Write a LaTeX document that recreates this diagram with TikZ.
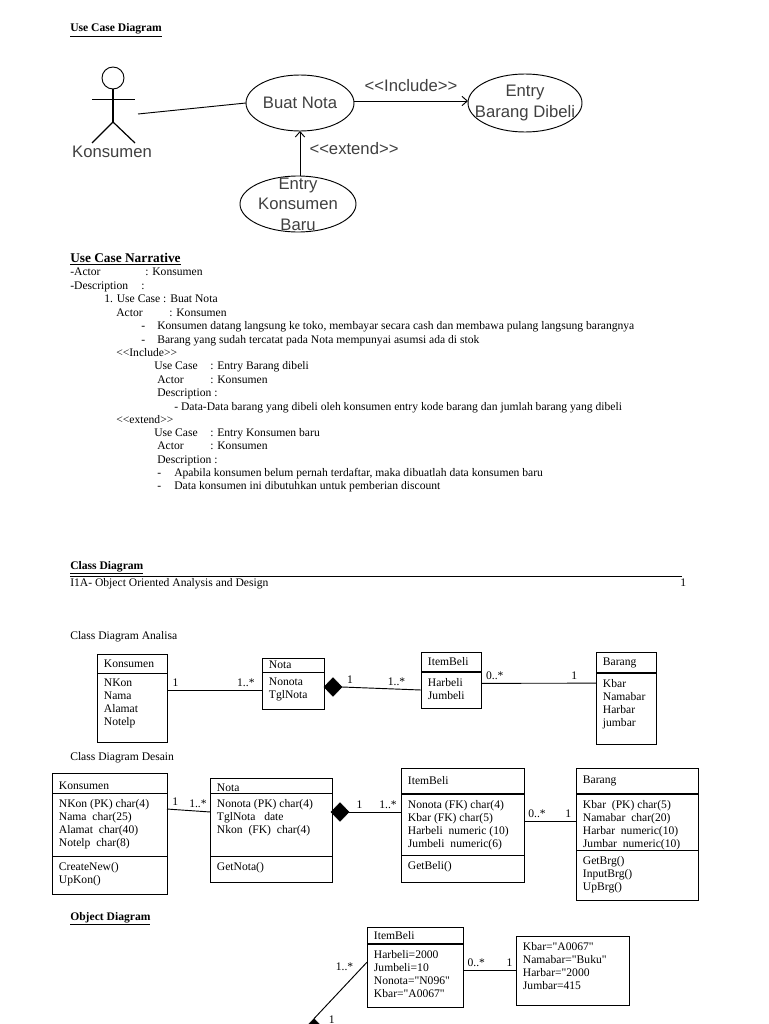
\documentclass[tikz,border=0pt]{standalone}
\usepackage{fontspec}
\setmainfont{Liberation Serif}[Ligatures=TeXOff]
\setsansfont{Liberation Sans}[Ligatures=TeXOff]
\usetikzlibrary{arrows.meta,positioning,shapes.geometric}

\begin{document}
\begin{tikzpicture}[
  x=0.75pt, y=-0.75pt,
  font=\fontsize{8.7}{9.75}\selectfont\rmfamily,
  txt/.style={anchor=base west, inner sep=0pt},
  wh/.style 2 args={minimum width=#1*0.75pt, minimum height=#2*0.75pt},
  uc/.style={draw, ellipse, inner sep=0pt, outer sep=0pt, line width=0.7pt,
    label={[ucl]center:#1}},
  ucl/.style={anchor=center, inner sep=0pt, align=center, text=black!75,
    font=\fontsize{12.5}{15.4}\selectfont\sffamily},
  box/.style={draw, rectangle, inner sep=0pt, outer sep=0pt, line width=0.7pt},
  head/.style={box, label={[ttl]west:#1}},
  headlow/.style={box, label={[ttl, yshift=-1.8pt]west:#1}},
  ttl/.style={anchor=west, inner sep=0pt, xshift=5pt, align=left},
  body/.style={box, label={[attr]north west:#1}},
  attr/.style={anchor=north west, inner sep=0pt, xshift=5pt, yshift=-4.5pt, align=left},
  dia/.style={draw, fill=black, diamond, inner sep=0pt, outer sep=0pt, minimum width=13.5pt, minimum height=14pt},
  conn/.style={line width=0.7pt},
  mult/.style={above, inner sep=2.5pt},
  arr/.style={-{Straight Barb[length=4pt,width=7pt]}, line width=0.7pt}
]
  \useasboundingbox (0,0) rectangle (768,1024);

  % narrative and headings
  \foreach \tx/\ty/\tt [count=\i] in {
    70/32/{\underline{\textbf{Use Case Diagram}}},
    70/262/{\underline{\fontsize{10}{12}\selectfont\textbf{Use Case Narrative}}},
    70/275/{-Actor}, 145/275/{: Konsumen},
    70/289/{-Description}, 141/289/{:},
    104/302/{1. Use Case : Buat Nota},
    116/316/{Actor}, 169/316/{: Konsumen},
    141/329/{-}, 157/329/{Konsumen datang langsung ke toko, membayar secara cash dan membawa pulang langsung barangnya},
    141/343/{-}, 157/343/{Barang yang sudah tercatat pada Nota mempunyai asumsi ada di stok},
    116/356/{<<Include>>},
    154/369/{Use Case}, 210/369/{: Entry Barang dibeli},
    157/383/{Actor}, 210/383/{: Konsumen},
    157/396/{Description :},
    174/410/{- Data-Data barang yang dibeli oleh konsumen entry kode barang dan jumlah barang yang dibeli},
    116/423/{<<extend>>},
    154/436/{Use Case}, 210/436/{: Entry Konsumen baru},
    157/449/{Actor}, 210/449/{: Konsumen},
    157/463/{Description :},
    157/476/{-}, 174/476/{Apabila konsumen belum pernah terdaftar, maka dibuatlah data konsumen baru},
    157/489/{-}, 174/489/{Data konsumen ini dibutuhkan untuk pemberian discount},
    70/569/{\underline{\textbf{Class Diagram}}},
    70/586/{I1A- Object Oriented Analysis and Design}, 680/586/{1},
    70/639/{Class Diagram Analisa},
    70/760/{Class Diagram Desain},
    70/920/{\underline{\textbf{Object Diagram}}}
  }
    \node[txt] (line\i) at (\tx,\ty) {\tt};
  \coordinate (ruleL) at (70,576);
  \coordinate (ruleR) at (682,576);
  \draw[line width=0.7pt] (ruleL) -- (ruleR);

  % use case
  \node[box, circle, minimum size=16.5pt] (actorHead) at (113,78) {};
  \coordinate (actorHip) at (113,122);
  \coordinate (armL) at (92,99);
  \coordinate (armR) at (135,99);
  \coordinate (legL) at (92,143);
  \coordinate (legR) at (135,143);
  \draw[line width=0.9pt] (actorHead.south) -- (actorHip);
  \draw[line width=0.7pt] (armL) -- (armR);
  \draw[line width=0.9pt] (legL) -- (actorHip) -- (legR);
  \node[ucl] (actorName) at (112,152) {Konsumen};
  \coordinate (actorEnd) at (138,114);

  \node[uc={Buat Nota}, wh={108}{56}] (buat) at (300,103) {};
  \node[uc={Entry\\Barang Dibeli}, wh={114}{58}] (entryB) at (525,103) {};
  \node[uc={Entry\\Konsumen\\Baru}, wh={116}{56}] (entryK) at (298,204) {};
  \node[ucl] (incl) at (411,86) {<<Include>>};
  \node[ucl] (ext) at (354,149) {<<extend>>};

  \draw[conn] (actorEnd) -- (buat.west);
  \draw[arr] ([yshift=1.5pt]buat.east) -- ([yshift=1.5pt]entryB.west);
  \draw[arr] (buat.south |- entryK.north) -- (buat.south);

  % class diagram analisa
  \node[head={Konsumen}, wh={70}{19}, anchor=north west] (ak1) at (97,654) {};
  \node[body={NKon\\Nama\\Alamat\\Notelp}, wh={70}{69}, below=0pt of ak1] (ak2) {};
  \node[head={Nota}, wh={62}{14}, anchor=north west] (an1) at (262,658) {};
  \node[body={Nonota\\TglNota}, wh={62}{37}, below=0pt of an1] (an2) {};
  \node[dia] (ad) at (333,687) {};
  \node[head={ItemBeli}, wh={60}{20}, anchor=north west] (ai1) at (421,652) {};
  \node[body={Harbeli\\Jumbeli}, wh={60}{36}, below=0pt of ai1] (ai2) {};
  \node[head={Barang}, wh={60}{21}, anchor=north west] (ab1) at (596,652) {};
  \node[body={Kbar\\Namabar\\Harbar\\jumbar}, wh={60}{71}, below=0pt of ab1] (ab2) {};

  \draw[conn] (ak2.east |- an2.west) -- (an2.west)
    node[mult, pos=.09] (am1) {1} node[mult, pos=.83] (am2) {1..*};
  \draw[conn] (ad.east) -- (ai2.west)
    node[mult, pos=.1] (am3) {1} node[mult, pos=.69] (am4) {1..*};
  \draw[conn] ([yshift=5pt]ai2.east) -- ([yshift=19pt]ab2.west)
    node[mult, pos=.12] (am5) {0..*} node[mult, pos=.81] (am6) {1};

  % class diagram desain
  \node[headlow={Konsumen}, wh={115}{20}, anchor=north west] (dk1) at (52,773) {};
  \node[body={NKon (PK) char(4)\\Nama\ \ char(25)\\Alamat\ \ char(40)\\Notelp\ \ char(8)}, wh={115}{63}, below=0pt of dk1] (dk2) {};
  \node[body={CreateNew()\\UpKon()}, wh={115}{38}, below=0pt of dk2] (dk3) {};
  \node[headlow={Nota}, wh={122}{15}, anchor=north west] (dn1) at (210,778) {};
  \node[body={Nonota (PK) char(4)\\TglNota\ \ \ date\\Nkon\ \ (FK)\ \ char(4)}, wh={122}{63}, below=0pt of dn1] (dn2) {};
  \node[body={GetNota()}, wh={122}{26}, below=0pt of dn2] (dn3) {};
  \node[dia] (dd) at (340,812) {};
  \node[head={ItemBeli}, wh={123}{26}, anchor=north west] (di1) at (401,768) {};
  \node[body={Nonota (FK) char(4)\\Kbar (FK) char(5)\\Harbeli\ \ numeric (10)\\Jumbeli\ \ numeric(6)}, wh={123}{61}, below=0pt of di1] (di2) {};
  \node[body={GetBeli()}, wh={123}{27}, below=0pt of di2] (di3) {};
  \node[head={Barang}, wh={122}{26}, anchor=north west] (db1) at (576,768) {};
  \node[body={Kbar\ \ (PK) char(5)\\Namabar\ \ char(20)\\Harbar\ \ numeric(10)\\Jumbar\ \ numeric(10)}, wh={122}{56}, below=0pt of db1] (db2) {};
  \node[body={GetBrg()\\InputBrg()\\UpBrg()}, wh={122}{50}, below=0pt of db2] (db3) {};

  \draw[conn] ([yshift=11.6pt]dk2.east) -- ([yshift=9.4pt]dn2.west)
    node[mult, pos=.19] (dm1) {1} node[mult, pos=.72] (dm2) {1..*};
  \draw[conn] (dd.east) -- (dd.east -| di2.west)
    node[mult, pos=.2] (dm3) {1} node[mult, pos=.75] (dm4) {1..*};
  \draw[conn] ([yshift=2.6pt]di2.east) -- ([yshift=2.6pt]di2.east -| db2.west)
    node[mult, pos=.25] (dm5) {0..*} node[mult, pos=.85] (dm6) {1};

  % object diagram
  \node[head={ItemBeli}, wh={96}{17}, anchor=north west] (oi1) at (367,927) {};
  \node[body={Harbeli=2000\\Jumbeli=10\\Nonota="N096"\\Kbar="A0067"}, wh={96}{63}, below=0pt of oi1] (oi2) {};
  \node[body={Kbar="A0067"\\Namabar="Buku"\\Harbar="2000\\Jumbar=415}, wh={113}{69}, anchor=north west] (ob) at (516,936) {};
  \node[dia] (od) at (314,1028) {};
  \draw[conn] (od.north) -- ([yshift=10pt]oi2.west)
    node[inner sep=0pt, pos=.02, right=10pt, yshift=-1.5pt] (om1) {1} node[inner sep=0pt, pos=.9, left=6pt, yshift=1pt] (om2) {1..*};
  \draw[conn] (oi2.east |- ob.west) -- (ob.west)
    node[mult, pos=.25] (om3) {0..*} node[mult, pos=.88] (om4) {1};

  % heavier title rules
  \foreach \n in {ai1,ab1,di1,db1,oi1}
    \draw[line width=1.5pt] (\n.south west) -- (\n.south east);
\end{tikzpicture}
\end{document}
